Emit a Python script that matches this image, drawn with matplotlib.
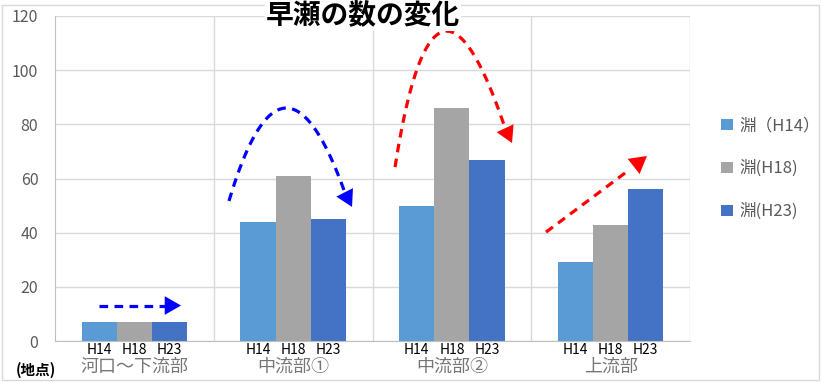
import numpy as np
import matplotlib
matplotlib.use("Agg")
import matplotlib.pyplot as plt
from matplotlib.patches import Rectangle

plt.rcParams['font.family'] = ['Noto Sans CJK JP', 'DejaVu Sans']

title = "早瀬の数の変化"
categories = ["河口～下流部", "中流部①", "中流部②", "上流部"]
series_names = ["淵（H14）", "淵(H18)", "淵(H23)"]
year_labels = ["H14", "H18", "H23"]
h14 = [7, 44, 50, 29]
h18 = [7, 61, 86, 43]
h23 = [7, 45, 67, 56]
colors = ["#5B9BD5", "#A5A5A5", "#4472C4"]

fig = plt.figure(figsize=(8.21, 3.82), dpi=100)
fig.patches.append(Rectangle((0.002, 0.004), 0.996, 0.982, transform=fig.transFigure,
                             fill=False, edgecolor="#D9D9D9", lw=1))
ax = fig.add_axes([55/821, 1-341/382, 635/821, 325/382])

x = np.arange(len(categories))
w = 0.221
for i, (vals, c, name) in enumerate(zip([h14, h18, h23], colors, series_names)):
    ax.bar(x + (i-1)*w, vals, width=w, color=c, label=name, zorder=2)

ax.set_xlim(-0.5, 3.5)
ax.set_ylim(0, 120)
ax.set_yticks(range(0, 121, 20))
ax.yaxis.grid(True, color="#D9D9D9", lw=1, zorder=0)
for b in [0.5, 1.5, 2.5, 3.5]:
    ax.axvline(b, color="#D9D9D9", lw=1, zorder=0)
for s in ["top", "right"]:
    ax.spines[s].set_visible(False)
for s in ["left", "bottom"]:
    ax.spines[s].set_color("#BFBFBF")
ax.tick_params(axis='y', length=0, labelsize=11.5, labelcolor="#595959", pad=12)
ax.set_xticks([])

tr = ax.get_xaxis_transform()
for i, cat in enumerate(categories):
    for j, yl in enumerate(year_labels):
        ax.text(i + (j-1)*w, -0.028, yl, transform=tr, ha='center', va='center',
                fontsize=10, color="black")
    ax.text(i, -0.08, cat, transform=tr, ha='center', va='center',
            fontsize=13, color="#767676")
fig.text(36/821, 1-370/382, "(地点)", ha='center', va='center', fontsize=10.5,
         color="black", fontweight='bold')

fig.text(363/821, 1-16/382, title, ha='center', va='center', fontsize=20,
         fontweight='bold', color='black',
         bbox=dict(facecolor='white', edgecolor='none', pad=0.5))

leg = ax.legend(loc='center left', bbox_to_anchor=(1.025, 0.53), frameon=False,
                fontsize=12, labelcolor="#595959", handlelength=0.7,
                handleheight=0.7, labelspacing=1.55, handletextpad=0.4)


def quad(p0, peak, p2, n=100):
    p0 = np.array(p0); p2 = np.array(p2); peak = np.array(peak)
    c = 2*peak - 0.5*(p0 + p2)
    t = np.linspace(0, 1, n)[:, None]
    return (1-t)**2*p0 + 2*(1-t)*t*c + t**2*p2


def dashed_arrow(pts, tip, color, ms=26):
    ax.plot(pts[:, 0], pts[:, 1], color=color, lw=2.3, ls=(0, (2.7, 2)), zorder=5,
            clip_on=False, dash_capstyle='butt')
    ax.annotate('', xy=tip, xytext=tuple(pts[-1]),
                arrowprops=dict(arrowstyle='-|>,head_length=0.42,head_width=0.24',
                                mutation_scale=ms, color=color,
                                lw=0, shrinkA=0, shrinkB=0), zorder=6,
                annotation_clip=False)


# straight blue arrow
dashed_arrow(np.linspace([-0.223, 13.1], [0.19, 13.1], 50), (0.294, 13.1), "blue", 28)
# blue arc
dashed_arrow(quad((0.596, 51.7), (0.949, 86.0), (1.327, 54.6)), (1.371, 49.5), "blue", 28)
# red arc
dashed_arrow(quad((1.642, 64.2), (1.938, 114.1), (2.335, 78.6)), (2.379, 73.1), "red", 28)
# red straight
dashed_arrow(np.linspace([2.593, 40.2], [3.12, 63.3], 50), (3.229, 68.3), "red", 29)

fig.savefig("out.png", dpi=100)
